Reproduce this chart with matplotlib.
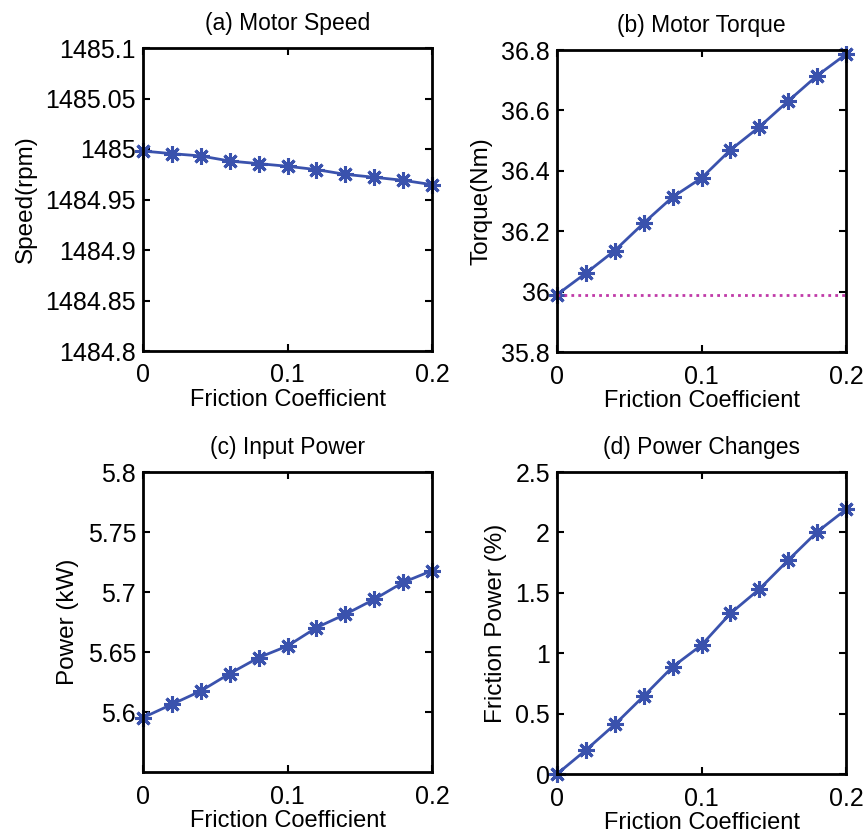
import matplotlib
matplotlib.use("Agg")
import matplotlib.pyplot as plt
import numpy as np

plt.rcParams['font.family'] = ['Liberation Sans', 'DejaVu Sans']

friction = [0, 0.02, 0.04, 0.06, 0.08, 0.10, 0.12, 0.14, 0.16, 0.18, 0.20]
speed = [1484.998, 1484.9954, 1484.9931, 1484.9881, 1484.9855, 1484.9829,
         1484.9796, 1484.9749, 1484.9720, 1484.9690, 1484.9647]
torque = [35.99, 36.061, 36.136, 36.227, 36.313, 36.376, 36.469, 36.545,
          36.631, 36.715, 36.786]
torque_ref = 35.99
power = [5.5953, 5.6064, 5.6175, 5.632, 5.6453, 5.655, 5.6703, 5.6814,
         5.6939, 5.708, 5.7178]
friction_power = [0.0, 0.198, 0.41, 0.645, 0.887, 1.067, 1.329, 1.53,
                  1.77, 2.004, 2.19]

titles = ['(a) Motor Speed', '(b) Motor Torque', '(c) Input Power', '(d) Power Changes']
ylabels = ['Speed(rpm)', 'Torque(Nm)', 'Power (kW)', 'Friction Power (%)']
xlabel = 'Friction Coefficient'
xticks = [0, 0.1, 0.2]
xticklabels = ['0', '0.1', '0.2']
yticks = [
    [1484.8, 1484.85, 1484.9, 1484.95, 1485, 1485.05, 1485.1],
    [35.8, 36, 36.2, 36.4, 36.6, 36.8],
    [5.6, 5.65, 5.7, 5.75, 5.8],
    [0, 0.5, 1, 1.5, 2, 2.5],
]
yticklabels = [
    ['1484.8', '1484.85', '1484.9', '1484.95', '1485', '1485.05', '1485.1'],
    ['35.8', '36', '36.2', '36.4', '36.6', '36.8'],
    ['5.6', '5.65', '5.7', '5.75', '5.8'],
    ['0', '0.5', '1', '1.5', '2', '2.5'],
]
ylims = [(1484.8, 1485.1), (35.8, 36.8), (5.55, 5.8), (0, 2.5)]
series = [speed, torque, power, friction_power]

W, H = 864, 836
fig = plt.figure(figsize=(W / 100, H / 100), dpi=100)
boxes = [
    (143, 48, 432, 351),
    (557, 50, 846, 352),
    (143, 472, 432, 772),
    (557, 472, 846, 774),
]
blue = '#3a52ad'
for i, (x0, y0, x1, y1) in enumerate(boxes):
    ax = fig.add_axes([x0 / W, 1 - y1 / H, (x1 - x0) / W, (y1 - y0) / H])
    ax.plot(friction, series[i], color=blue, lw=2, marker=(8, 2, 0),
            markersize=12, markeredgewidth=2.2, markeredgecolor=blue, clip_on=False)
    if i == 1:
        ax.axhline(torque_ref, color='#c03aa8', lw=2, ls=(0, (1, 1.5)))
    ax.set_xlim(0, 0.2)
    ax.set_ylim(*ylims[i])
    ax.set_xticks(xticks)
    ax.set_xticklabels(xticklabels)
    ax.set_yticks(yticks[i])
    ax.set_yticklabels(yticklabels[i])
    ax.tick_params(direction='in', top=True, right=True, labelsize=18,
                   length=5, width=1.5, pad=5)
    ax.tick_params(axis='x', pad=9)
    for sp in ax.spines.values():
        sp.set_linewidth(2)
    ax.set_title(titles[i], fontsize=16.5, pad=13)
    ax.set_xlabel(xlabel, fontsize=17, labelpad=1)
    ax.set_ylabel(ylabels[i], fontsize=17.5, labelpad=6)

fig.savefig('out.png', dpi=100)
